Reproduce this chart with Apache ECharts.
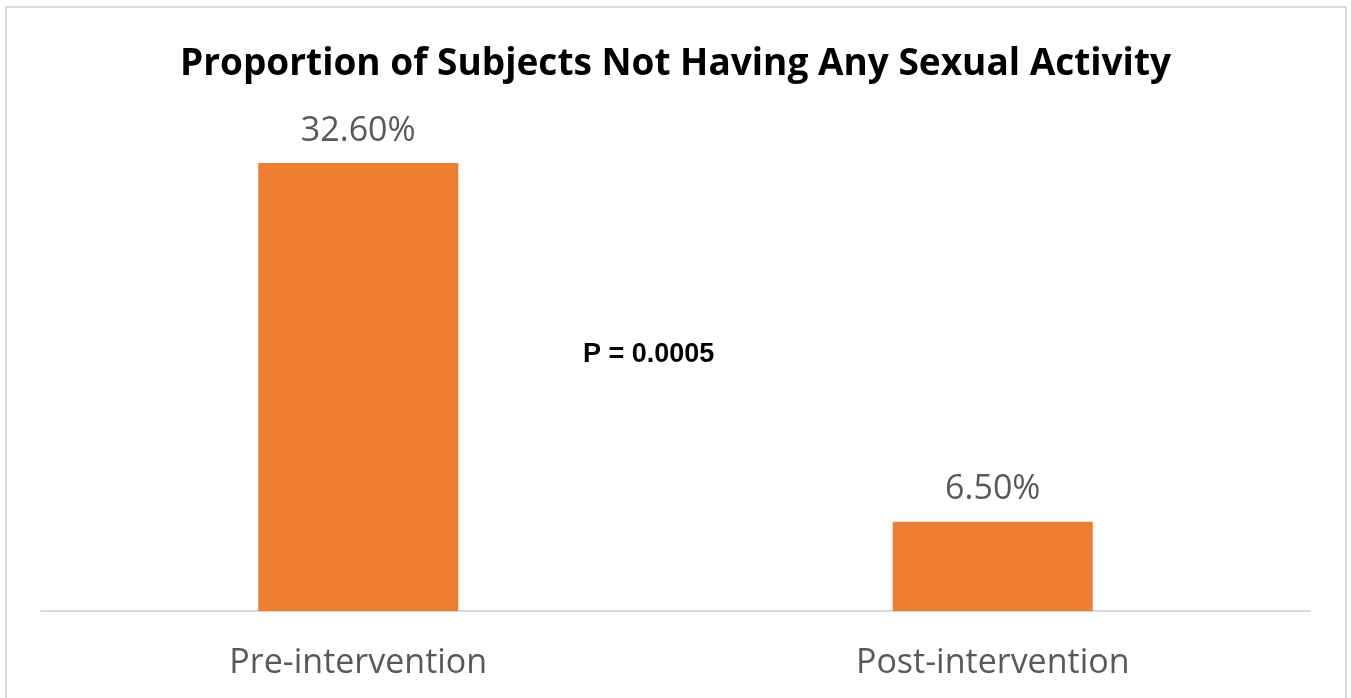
<!DOCTYPE html>
<html><head><meta charset="utf-8">
<script src="https://cdn.jsdelivr.net/npm/echarts@6/dist/echarts.min.js"></script>
<style>html,body{margin:0;padding:0;background:#fff}#c{width:1351px;height:698px}</style>
</head><body><div id="c"></div>
<script>
const categories = ['Pre-intervention', 'Post-intervention'];
const values = [32.6, 6.5];
const titleText = 'Proportion of Subjects Not Having Any Sexual Activity';
const pText = 'P = 0.0005';

const chart = echarts.init(document.getElementById('c'));
chart.setOption({
  backgroundColor: '#fff',
  animation: false,
  title: {
    text: titleText, left: 'center', top: 41,
    textStyle: { fontFamily: 'Open Sans', fontWeight: 'bold', fontSize: 37, color: '#000' }
  },
  grid: { left: 41, right: 41, top: 130, bottom: 87, containLabel: false },
  xAxis: {
    type: 'category', data: categories,
    axisLine: { lineStyle: { color: '#d9d9d9', width: 2 } },
    axisTick: { show: false },
    axisLabel: { fontFamily: 'Open Sans', fontSize: 34, color: '#595959', margin: 35 }
  },
  yAxis: { type: 'value', min: 0, max: 35, show: false, splitLine: { show: false } },
  series: [{
    type: 'bar', data: values, barWidth: 200,
    itemStyle: { color: '#ed7d31' },
    label: {
      show: true, position: 'top', distance: 15,
      formatter: p => p.value.toFixed(2) + '%',
      fontFamily: 'Open Sans', fontSize: 34, color: '#595959'
    }
  }],
  graphic: [
    { type: 'rect', shape: { x: 6, y: 7, width: 1340, height: 700 }, style: { fill: 'none', stroke: '#d9d9d9', lineWidth: 2 }, silent: true },
    { type: 'text', left: 583, top: 341, style: { text: pText, fontFamily: 'Liberation Sans', fontWeight: 'bold', fontSize: 27, fill: '#000' } }
  ]
});
</script></body></html>
